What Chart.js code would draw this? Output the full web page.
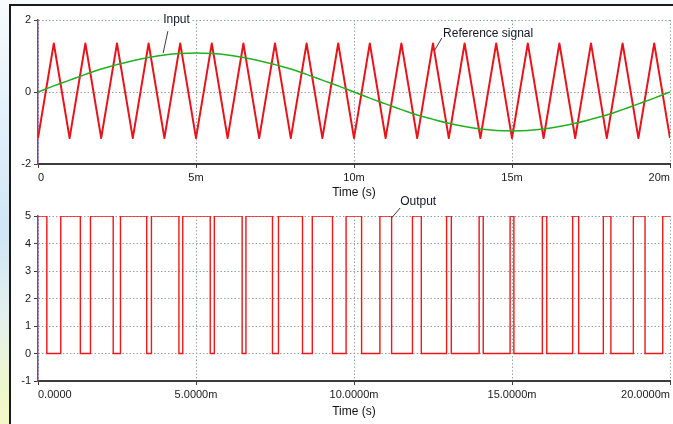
<!DOCTYPE html>
<html>
<head>
<meta charset="utf-8">
<script src="https://cdn.jsdelivr.net/npm/chart.js@4.4.0/dist/chart.umd.min.js"></script>
<style>
  html, body { margin: 0; padding: 0; }
  body {
    width: 673px; height: 424px; overflow: hidden; position: relative;
    background: linear-gradient(to bottom, #f8fbfd 0%, #e2f0fa 30%, #cfe6f5 55%, #e4f0ee 75%, #eef6cf 90%, #f3f8c6 100%);
  }
  #panel {
    position: absolute; left: 9px; top: 4px; width: 680px; height: 440px;
    background: #fff; border-left: 2px solid #1a1a1a; border-top: 2px solid #1a1a1a;
  }
  canvas { position: absolute; left: 0; }
  #topChart { top: 0; }
  #bottomChart { top: 190px; }
</style>
</head>
<body>
<div id="panel"></div>
<canvas id="topChart" width="673" height="200"></canvas>
<canvas id="bottomChart" width="673" height="234"></canvas>
<script>
// Triangle carrier ("Reference signal"), corners (time in ms)
const refTimes = [0, 0.5, 1, 1.5, 2, 2.5, 3, 3.5, 4, 4.5, 5, 5.5, 6, 6.5, 7, 7.5, 8, 8.5, 9, 9.5, 10,
  10.5, 11, 11.5, 12, 12.5, 13, 13.5, 14, 14.5, 15, 15.5, 16, 16.5, 17, 17.5, 18, 18.5, 19, 19.5, 20];
const refValues = [-1.28, 1.35, -1.28, 1.35, -1.28, 1.35, -1.28, 1.35, -1.28, 1.35, -1.28,
  1.35, -1.28, 1.35, -1.28, 1.35, -1.28, 1.35, -1.28, 1.35, -1.28,
  1.35, -1.28, 1.35, -1.28, 1.35, -1.28, 1.35, -1.28, 1.35, -1.28,
  1.35, -1.28, 1.35, -1.28, 1.35, -1.28, 1.35, -1.28, 1.35, -1.28];

// Sine "Input"
const inputTimes = refTimes;
const inputValues = [0, 0.17, 0.33, 0.49, 0.64, 0.76, 0.87, 0.96, 1.03, 1.07, 1.08,
  1.07, 1.03, 0.96, 0.87, 0.76, 0.64, 0.49, 0.33, 0.17, 0,
  -0.17, -0.33, -0.49, -0.64, -0.76, -0.87, -0.96, -1.03, -1.07, -1.08,
  -1.07, -1.03, -0.96, -0.87, -0.76, -0.64, -0.49, -0.33, -0.17, 0];

// PWM "Output": switching times (ms) and the level reached at each one
const outputTimes = [0, 0.28, 0.72, 1.34, 1.66, 2.38, 2.61, 3.44, 3.59, 4.46, 4.58, 5.45,
  5.58, 6.46, 6.58, 7.42, 7.61, 8.37, 8.68, 9.32, 9.75, 10.24, 10.82, 11.19,
  11.85, 12.13, 12.93, 13.08, 13.96, 14.09, 14.94, 15.06, 15.96, 16.10, 16.92, 17.11,
  17.89, 18.13, 18.84, 19.21, 19.77, 20];
const outputLevels = [5, 0, 5, 0, 5, 0, 5, 0, 5, 0, 5, 0,
  5, 0, 5, 0, 5, 0, 5, 0, 5, 0, 5, 0,
  5, 0, 5, 0, 5, 0, 5, 0, 5, 0, 5, 0,
  5, 0, 5, 0, 5, 5];

const topYTicks = [-2, 2, 2];      // min, max, step
const bottomYTicks = [-1, 5, 1];
const timeRange = [0, 20, 5];

Chart.defaults.font.family = '"Liberation Sans", Arial, sans-serif';
Chart.defaults.font.size = 11;
Chart.defaults.color = '#1a1a1a';

const gridColor = '#98a2a2';

// labels with a leader line, placed in data coordinates
const notesPlugin = {
  id: 'notes',
  afterDatasetsDraw(chart, args, opts) {
    const ctx = chart.ctx;
    const xs = chart.scales.x, ys = chart.scales.y;
    ctx.save();
    ctx.font = '12px "Liberation Sans", Arial, sans-serif';
    ctx.textBaseline = 'middle';
    (opts.items || []).forEach(n => {
      const tx = xs.getPixelForValue(n.at[0]);
      const ty = ys.getPixelForValue(n.at[1]);
      const w = ctx.measureText(n.label).width;
      ctx.fillStyle = '#fff';
      ctx.fillRect(tx - 2, ty - 6, w + 4, 12);
      ctx.fillStyle = '#15152a';
      ctx.fillText(n.label, tx, ty);
      ctx.strokeStyle = '#3a3a3a';
      ctx.lineWidth = 1;
      ctx.beginPath();
      ctx.moveTo(xs.getPixelForValue(n.from[0]), ys.getPixelForValue(n.from[1]));
      ctx.lineTo(xs.getPixelForValue(n.to[0]), ys.getPixelForValue(n.to[1]));
      ctx.stroke();
    });
    ctx.restore();
  }
};

function xAxis(fmt, height, titlePad) {
  return {
    type: 'linear', min: timeRange[0], max: timeRange[1],
    afterFit: s => { s.height = height; },
    ticks: { stepSize: timeRange[2], align: 'inner', padding: 3, maxRotation: 0, color: '#1a1a1a', callback: fmt },
    grid: { color: gridColor, lineWidth: 1, tickLength: 4, tickColor: '#3c3c3c', tickBorderDash: [] },
    border: { color: '#3c3c3c', width: 2, dash: [1.5, 2] },
    title: { display: true, text: 'Time (s)', font: { size: 12 }, color: '#111', padding: { top: 0, bottom: titlePad } }
  };
}

function yAxis(t) {
  return {
    min: t[0], max: t[1],
    afterFit: s => { s.width = 38; },
    ticks: { stepSize: t[2], padding: 3, color: '#1a1a1a' },
    grid: { color: gridColor, lineWidth: 1, tickLength: 4, tickColor: '#3c3c3c', tickBorderDash: [] },
    border: { color: '#8a3ca8', width: 1.5, dash: [1.5, 2] }
  };
}

new Chart(document.getElementById('topChart'), {
  type: 'line',
  data: {
    datasets: [
      {
        label: 'Input',
        data: inputTimes.map((t, i) => ({ x: t, y: inputValues[i] })),
        borderColor: '#20b020', borderWidth: 1.5, pointRadius: 0, tension: 0.4
      },
      {
        label: 'Reference signal',
        data: refTimes.map((t, i) => ({ x: t, y: refValues[i] })),
        borderColor: '#e8141c', borderWidth: 2, pointRadius: 0, tension: 0,
        borderJoinStyle: 'round'
      }
    ]
  },
  options: {
    responsive: false, animation: false,
    layout: { padding: { left: 0, right: 3, top: 20, bottom: 0 } },
    plugins: {
      legend: { display: false }, tooltip: { enabled: false },
      notes: { items: [
        { label: 'Input', at: [3.96, 2.0], from: [4.11, 1.69], to: [3.96, 1.08] },
        { label: 'Reference signal', at: [12.82, 1.61], from: [12.78, 1.5], to: [12.56, 1.17] }
      ] }
    },
    scales: {
      x: xAxis(v => v === 0 ? '0' : v + 'm', 36, 0),
      y: yAxis(topYTicks)
    }
  },
  plugins: [notesPlugin]
});

new Chart(document.getElementById('bottomChart'), {
  type: 'line',
  data: {
    datasets: [{
      label: 'Output',
      data: outputTimes.map((t, i) => ({ x: t, y: outputLevels[i] })),
      borderColor: '#f01818', borderWidth: 1.4, pointRadius: 0, stepped: 'before'
    }]
  },
  options: {
    responsive: false, animation: false,
    layout: { padding: { left: 0, right: 3, top: 26, bottom: 0 } },
    plugins: {
      legend: { display: false }, tooltip: { enabled: false },
      notes: { items: [
        { label: 'Output', at: [11.46, 5.51], from: [11.46, 5.29], to: [11.19, 4.93] }
      ] }
    },
    scales: {
      x: xAxis(v => v === 0 ? '0.0000' : v.toFixed(4) + 'm', 43, 5),
      y: yAxis(bottomYTicks)
    }
  },
  plugins: [notesPlugin]
});
</script>
</body>
</html>
